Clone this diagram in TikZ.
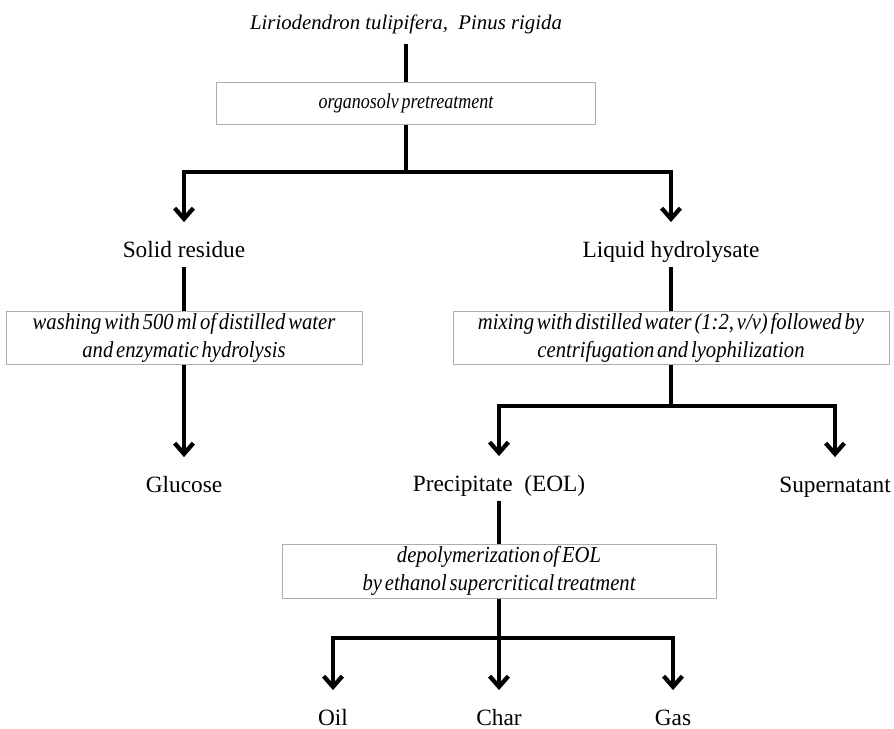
\documentclass[tikz,border=0pt]{standalone}
\usepackage{fontspec}
\setmainfont{Liberation Serif}
\newfontfamily\stepfont[FakeStretch=0.9, WordSpace=0.55]{Liberation Serif}
\newfontfamily\narrowfont[FakeStretch=0.85, WordSpace=0.6]{Liberation Serif}
\usetikzlibrary{arrows.meta}
\tikzstyle{stepbox} = [draw=black!32, line width=0.75pt, fill=white,
align=center, inner sep=0pt, font=\stepfont\itshape\fontsize{17.2}{21}\selectfont]
\tikzstyle{product} = [inner xsep=0pt, inner ysep=3.5pt, text height=12.5pt,
text depth=4pt, anchor=base, font=\fontsize{17.5}{21}\selectfont]
\tikzstyle{link} = [line width=3.2pt]
\tikzstyle{flow} = [link, -{Straight Barb[length=8pt,width=14pt]}, shorten >=10pt]

\begin{document}
\begin{tikzpicture}[x=0.75pt,y=-0.75pt]
  \useasboundingbox (0,0) rectangle (894,729);
  \node[product, inner ysep=7pt, font=\itshape\fontsize{15.6}{19}\selectfont] (wood) at (406,29)
    {Liriodendron tulipifera,\ \ Pinus rigida};
  \node[stepbox, minimum width=284pt, minimum height=32pt,
    font=\narrowfont\itshape\fontsize{15.9}{19}\selectfont] (organo) at (406,103.5)
    {organosolv pretreatment};
  \coordinate (split1) at (406,172);
  \node[product] (solid) at (184,257) {Solid residue};
  \node[product] (liquid) at (671,257) {Liquid hydrolysate};
  \node[stepbox, minimum width=267pt, minimum height=40pt] (wash) at (184,338)
    {washing with 500 ml of distilled water\\and enzymatic hydrolysis};
  \node[stepbox, minimum width=327pt, minimum height=40pt] (mix) at (671,338)
    {mixing with distilled water (1:2, v/v) followed by\\centrifugation and lyophilization};
  \node[product] (glucose) at (184,492) {Glucose};
  \coordinate (split2) at (671,406);
  \node[product] (precip) at (499,491) {Precipitate\ \ (EOL)};
  \node[product] (super) at (835,492) {Supernatant};
  \node[stepbox, minimum width=325.5pt, minimum height=40.5pt] (depol) at (499,571)
    {depolymerization of EOL\\by ethanol supercritical treatment};
  \coordinate (split3) at (499,638);
  \node[product] (oil) at (333,725) {Oil};
  \node[product] (char) at (499,725) {Char};
  \node[product] (gas) at (673,725) {Gas};

  \draw[link] (wood) -- (organo);
  \draw[link] (organo) -- (split1);
  \draw[flow] (split1) -| (solid);
  \draw[flow] (split1) -| (liquid);
  \draw[link] (solid) -- (wash);
  \draw[flow] (wash) -- (glucose);
  \draw[link] (liquid) -- (mix);
  \draw[link] (mix) -- (split2);
  \draw[flow] (split2) -| (precip);
  \draw[flow] (split2) -| (super);
  \draw[link] (precip) -- (depol);
  \draw[link] (depol) -- (split3);
  \draw[flow] (split3) -| (oil);
  \draw[flow] (split3) -- (char);
  \draw[flow] (split3) -| (gas);
\end{tikzpicture}
\end{document}
